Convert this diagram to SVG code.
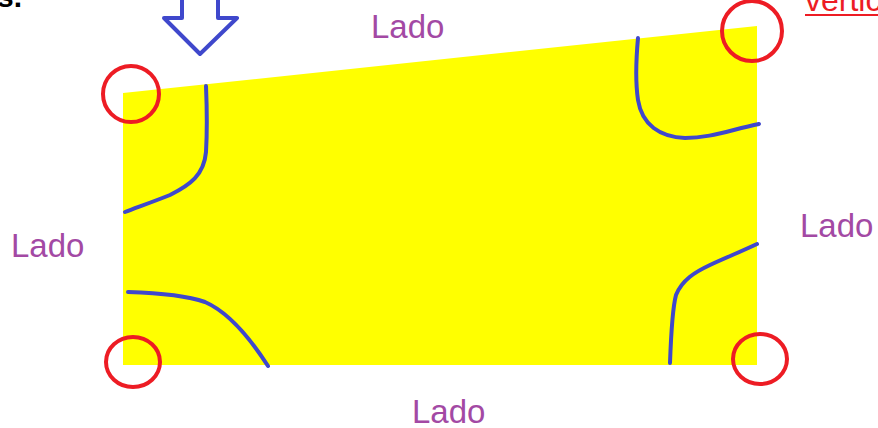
<svg xmlns="http://www.w3.org/2000/svg" width="878" height="428" viewBox="0 0 878 428">
  <style>
    .lbl { font-family: "Liberation Sans", Arial, sans-serif; font-size: 33px; fill: #a349a4; }
    .corner { fill: none; stroke: #ed1c24; stroke-width: 4; }
    .curve { fill: none; stroke: #3f48cc; stroke-width: 4; stroke-linecap: round; stroke-linejoin: round; }
  </style>
  <rect width="878" height="428" fill="#ffffff"/>
  <g id="shape">
    <polygon points="123,93 757,26 757,365 123,365" fill="#ffff00"/>
  </g>
  <g id="curves">
    <path class="curve" d="M206,86 C207,110 207,135 206,152 C204,175 190,185 170,195 C150,203 135,208 125,212"/>
    <path class="curve" d="M638,38 C636,60 635,80 638,100 C642,125 660,137 685,138 C710,138 730,130 759,124"/>
    <path class="curve" d="M128,292 C160,293 185,295 205,302 C228,312 248,335 268,366"/>
    <path class="curve" d="M670,363 C671,335 672,310 676,295 C682,280 695,272 710,265 C725,258 740,252 757,244"/>
  </g>
  <g id="corners">
    <circle class="corner" cx="131" cy="94" r="28"/>
    <circle class="corner" cx="752" cy="31" r="30"/>
    <ellipse class="corner" cx="133" cy="362" rx="27" ry="25"/>
    <ellipse class="corner" cx="760" cy="359" rx="27" ry="25"/>
  </g>
  <g id="arrow">
    <polygon points="182,-5 182,18 164,18 200,54 237,18 218,18 218,-5" fill="none" stroke="#3f48cc" stroke-width="4" stroke-linejoin="round"/>
  </g>
  <g id="labels">
    <text class="lbl" x="371" y="38">Lado</text>
    <text class="lbl" x="11" y="257">Lado</text>
    <text class="lbl" x="800" y="237">Lado</text>
    <text class="lbl" x="412" y="423">Lado</text>
  </g>
  <g id="header">
    <text x="-3" y="7" font-family="Liberation Sans, Arial, sans-serif" font-size="30" font-weight="bold" fill="#000000">s.</text>
    <text x="805" y="11" font-family="Liberation Sans, Arial, sans-serif" font-size="32" fill="#ed1c24">vertic</text>
    <line x1="805" y1="15" x2="878" y2="15" stroke="#ed1c24" stroke-width="2"/>
  </g>
</svg>
